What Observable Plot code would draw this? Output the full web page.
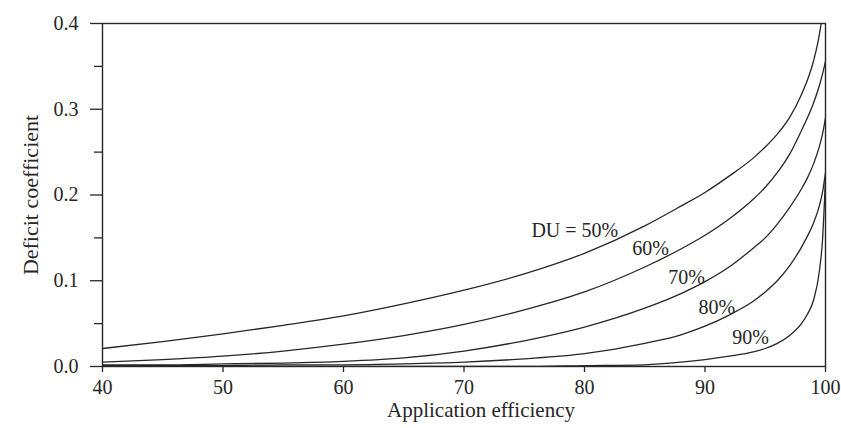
<!DOCTYPE html>
<html>
<head>
<meta charset="utf-8">
<script src="https://cdn.jsdelivr.net/npm/d3@7"></script>
<script src="https://cdn.jsdelivr.net/npm/@observablehq/plot@0.6"></script>
<style>
  html, body { margin: 0; padding: 0; background: #ffffff; }
  #chart svg { display: block; }
</style>
</head>
<body>
<div id="chart"></div>
<script>
// Application efficiency (%) at which the curves were read
const efficiency = [40, 45, 50, 55, 60, 65, 70, 75, 80, 85, 88, 90, 92, 94, 95, 96, 97, 98, 98.5, 99, 99.5, 99.75, 100];

// Deficit coefficient, one array per distribution uniformity
const du50 = [0.021, 0.029, 0.038, 0.048, 0.059, 0.073, 0.089, 0.108, 0.132, 0.164, 0.187, 0.203, 0.222, 0.243, 0.256, 0.271, 0.290, 0.317, 0.334, 0.356, 0.388, 0.412, 0.460];
const du60 = [0.005, 0.008, 0.012, 0.018, 0.026, 0.036, 0.049, 0.066, 0.087, 0.116, 0.137, 0.153, 0.172, 0.195, 0.209, 0.226, 0.247, 0.275, 0.290, 0.307, 0.328, 0.341, 0.356];
const du70 = [0.002, 0.002, 0.003, 0.004, 0.006, 0.010, 0.018, 0.030, 0.046, 0.068, 0.085, 0.099, 0.116, 0.138, 0.150, 0.166, 0.185, 0.207, 0.220, 0.236, 0.257, 0.271, 0.290];
const du80 = [0.001, 0.001, 0.001, 0.002, 0.002, 0.003, 0.005, 0.009, 0.015, 0.027, 0.037, 0.047, 0.060, 0.076, 0.087, 0.100, 0.117, 0.139, 0.152, 0.167, 0.188, 0.203, 0.226];
const du90 = [0.000, 0.000, 0.000, 0.000, 0.000, 0.000, 0.000, 0.000, 0.001, 0.002, 0.005, 0.008, 0.012, 0.017, 0.021, 0.027, 0.036, 0.050, 0.061, 0.077, 0.112, 0.147, 0.220];

const seriesNames = ["DU = 50%", "60%", "70%", "80%", "90%"];
// label anchor points (data units: efficiency, deficit coefficient)
const labelEfficiency = [82.8, 87.0, 90.0, 92.5, 95.3];
const labelDeficit = [0.158, 0.137, 0.104, 0.069, 0.034];

const yMajorTicks = [0, 0.1, 0.2, 0.3, 0.4];
const yMinorTicks = [0.05, 0.15, 0.25, 0.35];
const xTicks = [40, 50, 60, 70, 80, 90, 100];

const seriesValues = [du50, du60, du70, du80, du90];
const rows = [];
seriesValues.forEach((vals, i) => vals.forEach((v, j) => rows.push({series: seriesNames[i], ea: efficiency[j], dc: v})));
const labels = seriesNames.map((name, i) => ({name, ea: labelEfficiency[i], dc: labelDeficit[i]}));

const ink = "#262626";

const chart = Plot.plot({
  width: 841,
  height: 428,
  marginLeft: 102,
  marginRight: 16,
  marginTop: 23,
  marginBottom: 62,
  x: {domain: [40, 100]},
  y: {domain: [0, 0.4]},
  style: {fontFamily: "'Liberation Serif', 'DejaVu Serif', serif", fontSize: "20px", color: ink, background: "#ffffff"},
  marks: [
    Plot.lineY(rows, {x: "ea", y: "dc", z: "series", curve: "monotone-x", stroke: ink, strokeWidth: 1.3, clip: true}),
    Plot.frame({stroke: ink, strokeWidth: 1.4}),
    Plot.axisY({ticks: yMajorTicks, tickSize: 12, tickPadding: 12, tickFormat: d3.format(".1f"), fontSize: 20, stroke: ink, strokeWidth: 1.3, label: null}),
    Plot.axisY({ticks: yMinorTicks, tickSize: 8, text: null, label: null, stroke: ink, strokeWidth: 1.3}),
    Plot.axisX({ticks: xTicks, tickSize: 6, tickPadding: 7, fontSize: 20, stroke: ink, strokeWidth: 1.3, label: null}),
    Plot.text(["Deficit coefficient"], {text: d => d, frameAnchor: "left", textAnchor: "middle", rotate: -90, lineAnchor: "top", dx: -80, fontSize: 22, fill: ink}),
    Plot.text(["Application efficiency"], {text: d => d, frameAnchor: "bottom", textAnchor: "middle", dx: 17, dy: 44, lineAnchor: "middle", fontSize: 21, fill: ink}),
    Plot.text(labels, {x: "ea", y: "dc", text: "name", textAnchor: "end", lineAnchor: "middle", fontSize: 20, fill: ink})
  ]
});
document.getElementById("chart").appendChild(chart);
</script>
</body>
</html>
